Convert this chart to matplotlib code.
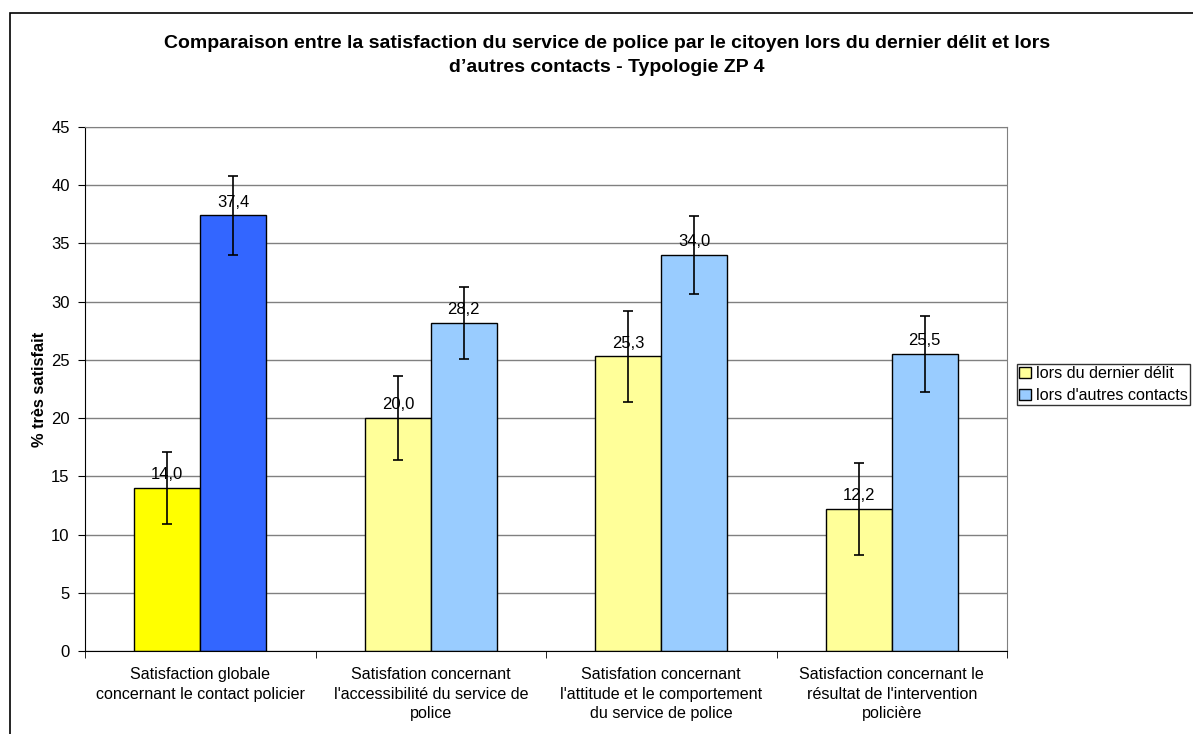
import numpy as np
import matplotlib.pyplot as plt
from matplotlib.patches import Rectangle

plt.rcParams['font.family'] = ['Liberation Sans', 'DejaVu Sans']

# donnees
categories = [
    "Satisfaction globale\nconcernant le contact policier",
    "Satisfation concernant\nl'accessibilité du service de\npolice",
    "Satisfation concernant\nl'attitude et le comportement\ndu service de police",
    "Satisfaction concernant le\nrésultat de l'intervention\npolicière",
]
dernier_delit = [14.0, 20.0, 25.3, 12.2]
autres_contacts = [37.4, 28.2, 34.0, 25.5]
err_delit = [3.1, 3.6, 3.9, 3.95]
err_autres = [3.35, 3.1, 3.35, 3.25]
series_names = ["lors du dernier délit", "lors d'autres contacts"]
title = ("Comparaison entre la satisfaction du service de police par le citoyen lors du dernier délit et lors\n"
         "d\u2019autres contacts - Typologie ZP 4")

col_y = ['#FFFF00', '#FFFF99', '#FFFF99', '#FFFF99']
col_b = ['#3366FF', '#99CCFF', '#99CCFF', '#99CCFF']

fig = plt.figure(figsize=(11.93, 7.34), dpi=100)
ax = fig.add_axes([85/1193, 1-651/734, (1007-85)/1193, (651-127)/734])

# cadre exterieur
fig.patches.append(Rectangle((10/1193, -0.2), 1.2, 1-13/734+0.2, transform=fig.transFigure,
                             fill=False, ec='black', lw=1.2))

x = np.arange(len(categories))
w = 1/3.5
b1 = ax.bar(x - w/2, dernier_delit, w, color=col_y, edgecolor='black', lw=1, zorder=2,
            label=series_names[0])
b2 = ax.bar(x + w/2, autres_contacts, w, color=col_b, edgecolor='black', lw=1, zorder=2,
            label=series_names[1])
ax.errorbar(x - w/2, dernier_delit, yerr=err_delit, fmt='none', ecolor='black', elinewidth=1.2,
            capsize=3.5, capthick=1.2, zorder=4)
ax.errorbar(x + w/2, autres_contacts, yerr=err_autres, fmt='none', ecolor='black', elinewidth=1.2,
            capsize=3.5, capthick=1.2, zorder=4)

for xs, vals in [(x - w/2, dernier_delit), (x + w/2, autres_contacts)]:
    for xi, v in zip(xs, vals):
        ax.text(xi, v + 0.5, f"{v:.1f}".replace('.', ','), ha='center', va='bottom',
                fontsize=12, zorder=3)

ax.set_xlim(-0.5, 3.5)
ax.set_ylim(0, 45)
ax.set_yticks(np.arange(0, 46, 5))
ax.yaxis.grid(True, color='#808080', lw=1)
ax.set_axisbelow(True)
ax.set_xticks(x)
ax.set_xticklabels(categories, fontsize=11.6, linespacing=1.38)
ax.set_xticks(np.arange(-0.5, 4, 1), minor=True)
ax.tick_params(axis='x', which='major', length=0, pad=11.5)
ax.tick_params(axis='x', which='minor', length=5, direction='out')
ax.tick_params(axis='y', labelsize=12, length=5, direction='out', pad=6)
ax.set_ylabel("% très satisfait", fontsize=11.8, fontweight='bold', labelpad=3)
for s in ['top', 'right']:
    ax.spines[s].set_color('#808080')
for s in ['left', 'bottom']:
    ax.spines[s].set_color('black')

fig.text(0.509, 1-35/734, title, ha='center', va='top', fontsize=14, fontweight='bold',
         linespacing=1.5)

leg = fig.legend(handles=[b1[1], b2[1]], labels=series_names, loc='upper left',
                 bbox_to_anchor=(1017/1193, 1-364/734), fontsize=11.6, frameon=True,
                 fancybox=False, edgecolor='black', handlelength=0.7, handleheight=0.7,
                 handletextpad=0.3, borderpad=0.15, labelspacing=0.4, borderaxespad=0)
leg.get_frame().set_linewidth(1)

fig.savefig('out.png', dpi=100)
